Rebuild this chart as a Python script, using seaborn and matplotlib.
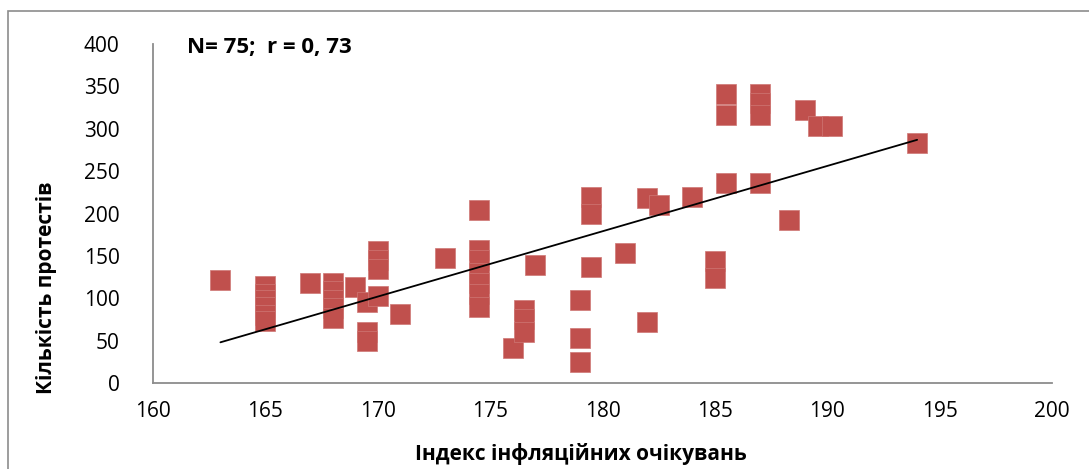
import matplotlib
matplotlib.use("Agg")
import matplotlib.pyplot as plt
import seaborn as sns
import pandas as pd
from matplotlib.patches import Rectangle

# inflation expectations index vs number of protests
index_vals = [163,
              165, 165, 165, 165, 165, 165,
              167,
              168, 168, 168, 168, 168,
              169,
              169.5, 169.5, 169.5,
              170, 170, 170, 170,
              171, 173,
              174.5, 174.5, 174.5, 174.5, 174.5, 174.5, 174.5,
              176,
              176.5, 176.5, 176.5,
              177,
              179, 179, 179,
              179.5, 179.5, 179.5,
              181,
              182, 182,
              182.5, 184,
              185, 185,
              185.5, 185.5, 185.5,
              187, 187, 187, 187,
              188.3, 189, 189.6, 190.2, 194]
protests = [122,
            115, 105, 98, 90, 80, 73,
            118,
            118, 108, 98, 88, 77,
            113,
            96, 60, 50,
            156, 145, 135, 103,
            81, 147,
            204, 157, 145, 130, 118, 105, 90,
            41,
            86, 75, 60,
            139,
            98, 53, 25,
            219, 199, 137,
            153,
            218, 72,
            210, 219,
            144, 124,
            341, 316, 236,
            341, 330, 316, 236,
            192, 322, 303, 303, 283]

trend_x = [163, 194]
trend_y = [48, 287]

df = pd.DataFrame({"x": index_vals, "y": protests})

sns.set_style("white")
plt.rcParams["font.family"] = ["Open Sans", "DejaVu Sans"]
plt.rcParams["text.color"] = "black"
plt.rcParams["axes.labelcolor"] = "black"
plt.rcParams["xtick.color"] = "black"
plt.rcParams["ytick.color"] = "black"

fig = plt.figure(figsize=(10.89, 4.69), dpi=100)
ax = fig.add_axes([0.1405, 0.1834, 0.8255, 0.7226])

sns.scatterplot(data=df, x="x", y="y", ax=ax, marker="s", s=210,
                color="#C0504D", edgecolor="#CF7775", linewidth=0.5, zorder=2)
ax.plot(trend_x, trend_y, color="black", lw=1.3, zorder=3)

ax.set_xlim(160, 200)
ax.set_ylim(0, 400)
ax.set_xticks(range(160, 201, 5))
ax.set_yticks(range(0, 401, 50))
ax.tick_params(axis="both", labelsize=15, length=0)
ax.tick_params(axis="x", pad=13)
ax.tick_params(axis="y", pad=24)

for side in ["top", "right"]:
    ax.spines[side].set_visible(False)
for side in ["left", "bottom"]:
    ax.spines[side].set_color("#8C8C8C")
    ax.spines[side].set_linewidth(1.3)

ax.set_xlabel("Індекс інфляційних очікувань", fontsize=15, fontweight="bold")
ax.set_ylabel("Кількість протестів", fontsize=15, fontweight="bold")
ax.xaxis.set_label_coords(0.476, -0.178)
ax.yaxis.set_label_coords(-0.107, 0.28)

ax.text(0.038, 0.99, "N= 75;  r = 0, 73", transform=ax.transAxes,
        fontsize=16, fontweight="bold", va="center", ha="left")

# outer chart frame
fig.patches.append(Rectangle((8 / 1089, -0.1), 1.2, 1 - 11 / 469 + 0.1,
                             transform=fig.transFigure, fill=False,
                             edgecolor="#8C8C8C", lw=1.2))

fig.savefig("out.png", dpi=100)
